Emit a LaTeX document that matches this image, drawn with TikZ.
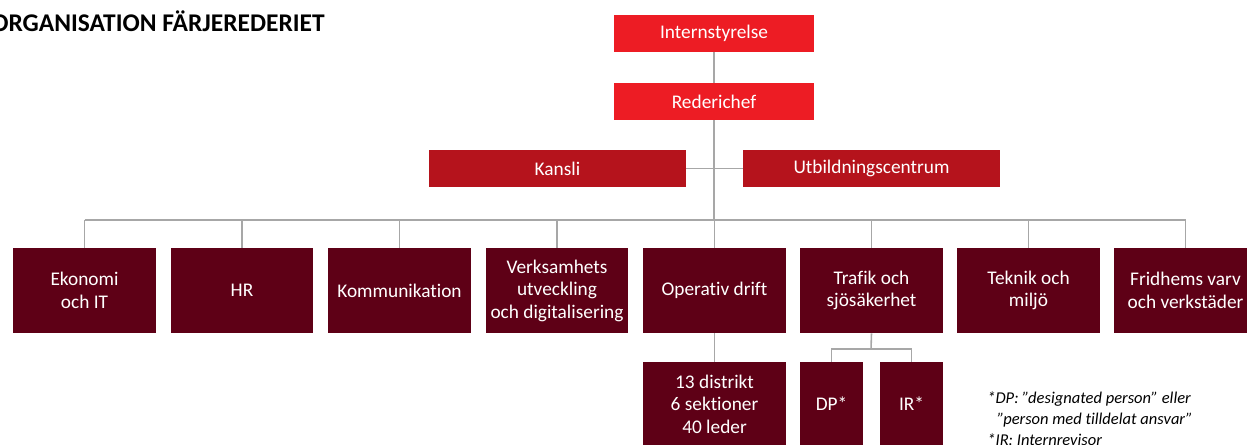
\documentclass[tikz,border=0pt]{standalone}
\usepackage{fontspec}
\setmainfont{Carlito}[Ligatures=NoCommon]
\definecolor{toppred}{HTML}{ED1C24}
\definecolor{midred}{HTML}{B5131C}
\definecolor{maroon}{HTML}{5E0016}
\definecolor{linegray}{HTML}{A7A7A7}

\begin{document}
\begin{tikzpicture}[x=0.02cm,y=-0.02cm,
  every node/.style={inner sep=0pt,align=center,text=white,font=\fontsize{11}{12.8}\selectfont},
  topbox/.style={fill=toppred,minimum width=4cm,minimum height=0.74cm},
  sidebox/.style={fill=midred,minimum width=5.14cm,minimum height=0.74cm},
  unitbox/.style={fill=maroon,minimum width=2.86cm,minimum height=1.7cm},
  subbox/.style={fill=maroon,minimum width=1.26cm,minimum height=1.68cm},
  conn/.style={draw=linegray,line width=0.9pt}]
\clip (0,0) rectangle (1247,445);
% title
\node[text=black,anchor=base west,font=\fontsize{14.5}{16}\bfseries] (title) at (-9,32) {ORGANISATION FÄRJEREDERIET};
% top of the tree
\node[topbox] (intern) at (714,33.5) {Internstyrelse};
\node[topbox] (rede) at (714,101.5) {Rederichef};
\node[sidebox] (kansli) at (557.5,168.5) {Kansli};
\node[sidebox] (utb) at (871.5,168.5) {Utbildningscentrum};
\coordinate (bus) at (714,220);
% units
\node[unitbox] (ekon) at (84.5,290.5) {Ekonomi\\och IT};
\node[unitbox] (hr) at (242,290.5) {HR};
\node[unitbox] (komm) at (399.5,290.5) {Kommunikation};
\node[unitbox] (verk) at (557,290.5) {Verksamhets\\utveckling\\och digitalisering};
\node[unitbox] (oper) at (714.5,290.5) {Operativ drift};
\node[unitbox] (traf) at (871.5,290.5) {Trafik och\\sjösäkerhet};
\node[unitbox] (tekn) at (1028.5,290.5) {Teknik och\\miljö};
\node[unitbox] (frid) at (1185.5,290.5) {Fridhems varv\\och verkstäder};
% below
\node[unitbox,minimum height=1.68cm] (distr) at (714.5,404) {13 distrikt\\6 sektioner\\40 leder};
\node[subbox] (dp) at (831.5,404) {DP*};
\node[subbox] (ir) at (911.5,404) {IR*};
\coordinate (split) at (871,349);
% connectors
\draw[conn] (intern) -- (rede);
\draw[conn] (rede) -- (bus);
\draw[conn] (kansli) -- (utb);
\draw[conn] (ekon.north |- bus) -- (frid.north |- bus);
\draw[conn] (ekon.north) -- (ekon.north |- bus);
\draw[conn] (hr.north) -- (hr.north |- bus);
\draw[conn] (komm.north) -- (komm.north |- bus);
\draw[conn] (verk.north) -- (verk.north |- bus);
\draw[conn] (oper.north) -- (oper.north |- bus);
\draw[conn] (traf.north) -- (traf.north |- bus);
\draw[conn] (tekn.north) -- (tekn.north |- bus);
\draw[conn] (frid.north) -- (frid.north |- bus);
\draw[conn] (oper) -- (distr);
\draw[conn] (traf.south) -- (split);
\draw[conn] (dp.north) |- (split) -| (ir.north);
% note
\node[text=black,anchor=north west,align=left,font=\fontsize{9.4}{12.2}\itshape] (note) at (987,391)
  {*DP: ”designated person” eller\\\hspace{0.6em}”person med tilldelat ansvar”\\*IR: Internrevisor};
\end{tikzpicture}
\end{document}
